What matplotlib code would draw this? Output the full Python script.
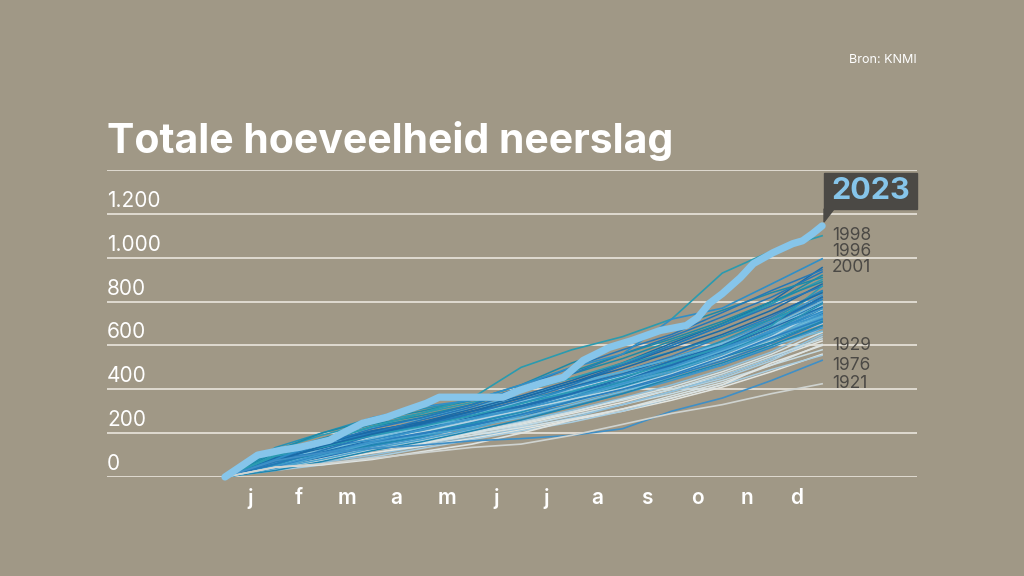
import matplotlib
matplotlib.use("Agg")
import matplotlib.pyplot as plt
from matplotlib.patches import Rectangle, Polygon

# ── Data (cumulative mm at month ends) ────────────────────────────
month_end_days = [0, 31, 59, 90, 120, 151, 181, 212, 243, 273, 304, 334, 365]
month_mid_days = [15.5, 45, 74.5, 105, 135.5, 166, 196.5, 227.5, 258, 288.5, 319, 349.5]
month_labels = ["j", "f", "m", "a", "m", "j", "j", "a", "s", "o", "n", "d"]

y_ticks = [0, 200, 400, 600, 800, 1000, 1200]
y_tick_labels = ["0", "200", "400", "600", "800", "1.000", "1.200"]
grid_levels = [0, 200, 400, 600, 800, 1000, 1200, 1400]

dry_years = [
    [0, 50, 85, 120, 160, 200, 240, 290, 340, 400, 460, 540, 620],
    [0, 40, 70, 110, 145, 190, 230, 280, 330, 390, 450, 530, 640],
    [0, 65, 100, 130, 165, 200, 235, 280, 330, 380, 440, 510, 580],
    [0, 35, 65, 100, 140, 180, 220, 270, 330, 390, 460, 540, 650],
    [0, 55, 90, 125, 155, 190, 225, 265, 310, 370, 430, 510, 605],
    [0, 45, 75, 110, 140, 175, 215, 260, 300, 350, 410, 480, 560],
    [0, 30, 55, 90, 130, 170, 210, 250, 300, 360, 420, 490, 555],
    [0, 70, 105, 140, 170, 205, 250, 300, 350, 400, 470, 550, 630],
    [0, 60, 90, 135, 175, 215, 255, 305, 360, 420, 490, 570, 680],
    [0, 40, 80, 120, 150, 200, 245, 295, 355, 410, 480, 560, 660],
]

mid_years = [
    [0, 95, 140, 190, 240, 280, 340, 410, 480, 550, 640, 730, 850],
    [0, 75, 125, 180, 225, 285, 340, 400, 470, 540, 620, 710, 830],
    [0, 55, 110, 170, 215, 270, 330, 410, 470, 540, 610, 700, 820],
    [0, 105, 165, 225, 265, 310, 360, 420, 480, 540, 610, 700, 810],
    [0, 80, 135, 175, 220, 280, 350, 400, 460, 530, 620, 720, 845],
    [0, 65, 115, 160, 200, 250, 310, 380, 450, 520, 600, 690, 790],
    [0, 90, 150, 200, 240, 290, 330, 380, 450, 510, 590, 680, 800],
    [0, 50, 100, 160, 210, 260, 320, 390, 450, 520, 590, 690, 780],
    [0, 70, 130, 190, 230, 270, 320, 380, 440, 500, 580, 670, 770],
    [0, 115, 160, 210, 250, 290, 340, 390, 450, 500, 570, 660, 760],
    [0, 60, 95, 150, 190, 250, 310, 370, 430, 490, 570, 650, 750],
    [0, 85, 140, 185, 220, 270, 330, 390, 460, 520, 590, 660, 740],
    [0, 45, 90, 140, 180, 240, 300, 370, 440, 510, 590, 690, 795],
    [0, 100, 145, 190, 230, 270, 310, 370, 430, 490, 560, 650, 730],
    [0, 70, 120, 165, 210, 260, 300, 360, 410, 470, 540, 620, 720],
    [0, 55, 105, 150, 200, 240, 290, 340, 400, 460, 540, 630, 740],
    [0, 80, 115, 170, 210, 250, 300, 360, 420, 480, 550, 640, 765],
    [0, 40, 80, 130, 170, 220, 280, 350, 410, 470, 540, 630, 715],
    [0, 90, 130, 180, 215, 260, 310, 370, 420, 480, 540, 620, 700],
    [0, 65, 110, 155, 195, 245, 300, 350, 400, 450, 510, 590, 690],
    [0, 75, 115, 160, 200, 240, 280, 330, 390, 460, 530, 610, 705],
    [0, 50, 95, 140, 180, 230, 270, 320, 380, 440, 510, 600, 680],
    [0, 95, 150, 210, 250, 300, 340, 400, 460, 510, 570, 650, 745],
    [0, 120, 170, 230, 270, 320, 370, 430, 480, 540, 610, 690, 775],
    [0, 135, 200, 270, 310, 350, 400, 450, 510, 570, 640, 720, 810],
    [0, 60, 110, 150, 190, 230, 270, 330, 390, 450, 520, 600, 665],
    [0, 30, 70, 120, 160, 210, 260, 320, 380, 450, 520, 600, 690],
    [0, 85, 125, 175, 215, 265, 320, 375, 430, 490, 560, 640, 725],
    [0, 70, 130, 180, 230, 280, 330, 400, 460, 520, 600, 680, 780],
    [0, 100, 155, 200, 235, 275, 325, 385, 445, 505, 580, 665, 760],
    [0, 45, 100, 150, 195, 250, 310, 380, 450, 515, 600, 700, 810],
    [0, 80, 120, 165, 205, 255, 320, 380, 440, 500, 580, 670, 770],
    [0, 60, 115, 170, 220, 275, 325, 380, 445, 510, 595, 680, 775],
    [0, 110, 150, 185, 230, 265, 300, 355, 420, 495, 575, 655, 735],
    [0, 55, 120, 175, 205, 245, 295, 365, 435, 490, 560, 660, 790],
    [0, 90, 120, 175, 225, 280, 345, 395, 445, 525, 610, 690, 800],
    [0, 70, 105, 145, 185, 235, 285, 345, 415, 480, 545, 615, 710],
    [0, 40, 95, 155, 190, 225, 280, 355, 425, 480, 560, 650, 750],
    [0, 100, 140, 170, 205, 255, 305, 355, 405, 470, 550, 640, 760],
    [0, 75, 135, 170, 215, 265, 335, 405, 465, 525, 590, 660, 755],
    [0, 85, 110, 160, 200, 235, 285, 345, 400, 465, 545, 635, 720],
    [0, 50, 105, 160, 215, 265, 310, 365, 425, 500, 585, 665, 740],
    [0, 95, 165, 205, 240, 280, 320, 380, 450, 530, 600, 700, 820],
]

wet_years = [
    [0, 90, 150, 210, 250, 310, 370, 440, 520, 610, 700, 800, 955],
    [0, 110, 175, 240, 280, 330, 400, 470, 540, 620, 700, 790, 920],
    [0, 70, 140, 200, 260, 320, 390, 470, 560, 640, 730, 820, 935],
    [0, 125, 190, 250, 290, 340, 390, 450, 520, 600, 690, 790, 900],
    [0, 85, 130, 195, 240, 300, 360, 430, 510, 590, 670, 760, 880],
    [0, 100, 160, 230, 270, 330, 400, 480, 560, 630, 710, 800, 890],
    [0, 60, 120, 190, 235, 290, 350, 420, 510, 600, 690, 780, 870],
    [0, 95, 135, 190, 230, 280, 335, 390, 455, 520, 595, 690, 870],
    [0, 75, 140, 195, 245, 300, 360, 430, 495, 570, 650, 740, 840],
    [0, 120, 200, 260, 300, 350, 420, 520, 600, 680, 760, 840, 910],
    [0, 80, 150, 220, 270, 330, 410, 500, 580, 650, 750, 850, 945],
]

named_years = ["1998", "2001", "1929", "1976", "1921"]
named_values = [
    [0, 100, 160, 230, 290, 360, 500, 580, 640, 720, 930, 1030, 1100],
    [0, 80, 160, 270, 320, 350, 420, 500, 560, 720, 770, 880, 995],
    [0, 45, 55, 80, 115, 150, 200, 260, 310, 360, 420, 520, 600],
    [0, 75, 110, 130, 145, 165, 175, 190, 220, 300, 360, 440, 532],
    [0, 45, 60, 85, 110, 135, 150, 190, 240, 290, 330, 380, 425],
]

# 2023 traced more finely (day of year, mm)
days_2023 = [0, 9, 20, 35, 46, 64, 72, 84, 99, 111, 123, 131, 170, 180, 193,
             207, 219, 235, 249, 266, 282, 289, 296, 304, 315, 323, 335, 347,
             353, 359, 365]
mm_2023 = [0, 45, 100, 123, 136, 168, 200, 245, 273, 305, 336, 364, 364, 395,
           427, 455, 532, 591, 623, 668, 691, 727, 791, 836, 909, 973, 1023,
           1064, 1077, 1109, 1145]

label_years = ["1998", "1996", "2001", "1929", "1976", "1921"]
label_mm = [1100, 1030, 955, 598, 510, 428]

# ── Style ─────────────────────────────────────────────────────────
BG = "#a09886"
GRID = "#f0ece4"
C2023 = "#86c5ea"
DARK = "#4b4945"
dry_cols = ["#e3e6e2", "#a9cde0", "#c6dbe3", "#8fc0dc", "#d6e2e4"]
mid_cols = ["#2a7fbf", "#3d97cc", "#1f6fae", "#5aaed6", "#2591b5",
            "#76bcdc", "#1d86b0", "#4aa3d0", "#b3d3e2", "#2e8cc6"]
wet_cols = ["#1a6aa6", "#1c8aa8", "#2478b8", "#2a9bb5"]
named_cols = ["#2a9bb0", "#2f8fc8", "#dfe4e2", "#3f8fc6", "#cfd3d0"]

W, H = 1024, 576
fig = plt.figure(figsize=(W / 100, H / 100), dpi=100, facecolor=BG)
ax = fig.add_axes([107 / W, 99 / H, 810 / W, 307 / H])
ax.set_facecolor(BG)
for s in ax.spines.values():
    s.set_visible(False)

ax.set_xlim(-72.1, 423.0)
ax.set_ylim(0, 1400)

for g in grid_levels:
    ax.axhline(g, color=GRID, lw=1.1, zorder=1)

lw = 1.1
for i, vals in enumerate(dry_years):
    ax.plot(month_end_days, vals, color=dry_cols[i % len(dry_cols)], lw=lw,
            zorder=2, clip_on=False)
for i, vals in enumerate(mid_years):
    ax.plot(month_end_days, vals, color=mid_cols[i % len(mid_cols)], lw=lw,
            zorder=3, clip_on=False)
for i, vals in enumerate(wet_years):
    ax.plot(month_end_days, vals, color=wet_cols[i % len(wet_cols)], lw=lw,
            zorder=3, clip_on=False)
for i, vals in enumerate(named_values):
    ax.plot(month_end_days, vals, color=named_cols[i], lw=1.2, zorder=4,
            clip_on=False)

ax.plot(days_2023, mm_2023, color=C2023, lw=5.2, solid_capstyle="round",
        solid_joinstyle="round", zorder=6, clip_on=False)

# year labels at the right
for yr, v in zip(label_years, label_mm):
    ax.text(371, v, yr, color=DARK, fontsize=12.5, family="Inter",
            va="center", ha="left", zorder=7)

# y labels sit above the gridlines
for t, lab in zip(y_ticks, y_tick_labels):
    ax.annotate(lab, xy=(0, t), xycoords=("axes fraction", "data"),
                xytext=(0, 5), textcoords="offset points",
                color="white", fontsize=15, family="Inter",
                ha="left", va="baseline")
ax.set_yticks([])

ax.set_xticks(month_mid_days)
ax.set_xticklabels(month_labels, color="white", fontsize=15,
                   family="Inter", fontweight="semibold")
ax.tick_params(axis="x", length=0, pad=8)

# 2023 callout box
x0, y0, x1, y1 = 824, 173, 917, 209
fig.add_artist(Rectangle((x0 / W, 1 - y1 / H), (x1 - x0) / W, (y1 - y0) / H,
                         transform=fig.transFigure, color=DARK, zorder=8))
fig.add_artist(Polygon([(x0 / W, 1 - y1 / H), ((x0 + 10) / W, 1 - y1 / H),
                        (x0 / W, 1 - 222 / H)],
                       transform=fig.transFigure, color=DARK, zorder=8))
fig.text((x0 + x1) / 2 / W, 1 - (y0 + y1) / 2 / H, "2023", color=C2023,
         fontsize=22, fontweight="bold", family="Inter",
         ha="center", va="center", zorder=9)

fig.text(107 / W, 1 - 153 / H, "Totale hoeveelheid neerslag", color="white",
         fontsize=29.5, fontweight="bold", family="Inter",
         ha="left", va="baseline")
fig.text(917 / W, 1 - 60 / H, "Bron: KNMI", color="white", fontsize=9,
         family="Inter", ha="right", va="center")

fig.savefig("out.png", dpi=100, facecolor=BG)
